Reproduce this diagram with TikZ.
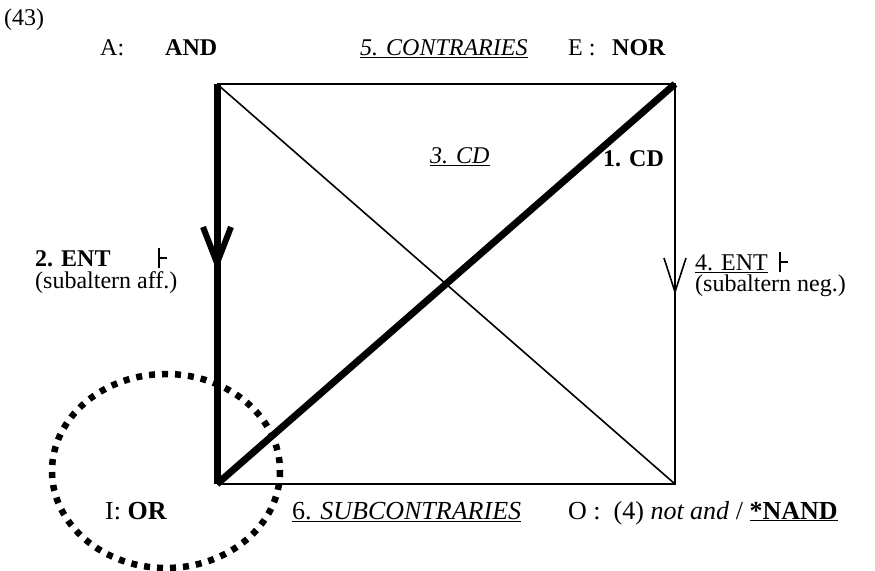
\documentclass[tikz,border=0pt]{standalone}
\usepackage{fontspec}
\setmainfont{Liberation Serif}
\usepackage{tikz}
\usetikzlibrary{positioning, calc}

\begin{document}
\begin{tikzpicture}[
        x=1pt, y=-1pt,
        lbl/.style={inner sep=0pt, anchor=base west, font=\fontsize{24}{28}\selectfont},
        biglbl/.style={lbl, font=\fontsize{26}{30}\selectfont},
        side/.style={line width=1.6pt},
        heavy/.style={line width=7pt},
        vmark/.style={line width=1.6pt, line join=miter},
        vheavy/.style={line width=6pt, line join=miter},
        tstile/.style={line width=2pt},
        ring/.style={line width=6.5pt, dash pattern=on 6pt off 7pt}
    ]
    \useasboundingbox (0,0) rectangle (875,570);

    % Corners of the square
    \coordinate (cA) at (217,84);
    \coordinate (cE) at (675,84);
    \coordinate (cI) at (217,484);
    \coordinate (cO) at (675,484);

    % Thin sides and diagonal
    \draw [side] (cA) -- (cE) -- (cO) -- (cI);
    \draw [side] (cA) -- (cO);

    % Heavy sides
    \draw [heavy] (cA) -- (cI);
    \draw [heavy] (cI) -- (cE);

    % Entailment marks
    \coordinate (entL) at (217,263);
    \coordinate (entR) at (675,292);
    \draw [vheavy] (entL) ++(-14,-36) -- (entL) -- ++(14,-36);
    \draw [vmark] (entR) ++(-11,-34) -- (entR) -- ++(11,-34);

    % Top row
    \node[lbl] (num) at (4,25) {(43)};
    \node[lbl] (labA) at (100,55) {A:};
    \node[lbl] (labAND) at (165,55) {\textbf{AND}};
    \node[lbl] (contr) at (360,55) {\underline{\textit{5. CONTRARIES}}};
    \node[lbl] (labE) at (568,55) {E :};
    \node[lbl] (labNOR) at (612,55) {\textbf{NOR}};

    % Inside the square
    \node[lbl] (cd3) at (430,163) {\underline{\textit{3. CD}}};
    \node[lbl] (cd1) at (603,166) {\textbf{1. CD}};

    % Left side labels
    \node[lbl] (ent2) at (35,266) {\textbf{2. ENT}};
    \node[lbl] (subA) [below=5pt of ent2.base west, anchor=north west] {(subaltern aff.)};
    \coordinate (tsL) at (159,258);
    \draw [tstile] (tsL) ++(0,-10) -- ++(0,20) (tsL) -- ++(8,0);

    % Right side labels
    \node[lbl] (ent4) at (695,270) {\underline{4. ENT}};
    \node[lbl] (subN) [below=5pt of ent4.base west, anchor=north west] {(subaltern neg.)};
    \coordinate (tsR) at (780,262);
    \draw [tstile] (tsR) ++(0,-10) -- ++(0,20) (tsR) -- ++(8,0);

    % Bottom row
    \node[biglbl] (labI) at (105,519) {I: \textbf{OR}};
    \node[biglbl] (subc) at (292,519) {\underline{6. \textit{SUBCONTRARIES}}};
    \node[biglbl] (labO) at (568,519) {O :\ \ (4) \textit{not and} / \underline{\textbf{*NAND}}};

    % Dotted ring round I
    \draw [ring] (166,471) ellipse [x radius=114, y radius=97];

\end{tikzpicture}
\end{document}
